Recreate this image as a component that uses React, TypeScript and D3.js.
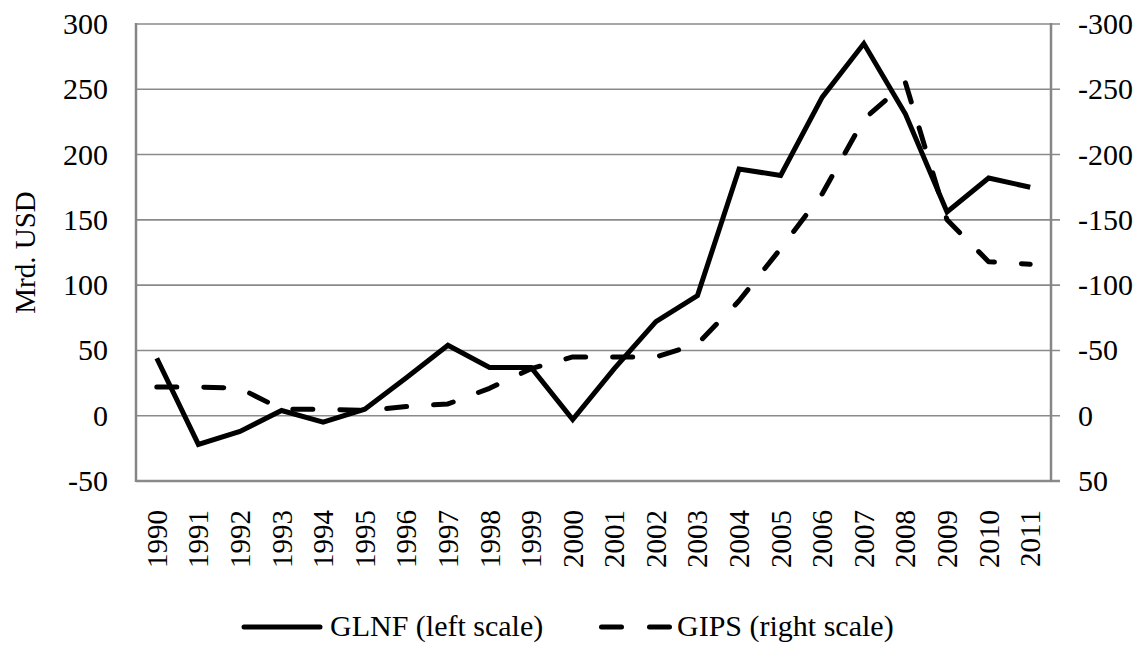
import React, { useRef, useEffect } from 'react';
import * as d3 from 'd3';

const years = ['1990', '1991', '1992', '1993', '1994', '1995', '1996', '1997', '1998', '1999', '2000', '2001', '2002', '2003', '2004', '2005', '2006', '2007', '2008', '2009', '2010', '2011'];
// GLNF, left scale
const glnf = [44, -22, -12, 4, -5, 5, 29, 54, 37, 37, -3, 36, 72, 92, 189, 184, 244, 285, 231, 156, 182, 175];
// GIPS, right scale (inverted)
const gips = [-22, -22, -21, -5, -5, -4, -7, -9, -21, -36, -45, -45, -45, -55, -88, -128, -170, -227, -255, -150, -118, -116];
const leftTicks = [-50, 0, 50, 100, 150, 200, 250, 300];
const rightTicks = [50, 0, -50, -100, -150, -200, -250, -300];

const FONT = 'Liberation Serif';

const App = () => {
  const svgRef = useRef<SVGSVGElement>(null);

  useEffect(() => {
    const svg = d3.select(svgRef.current);
    svg.selectAll('*').remove();

    const width = 1141;
    const height = 645;
    const left = 136;
    const right = 1051;
    const top = 24;
    const bottom = 481;

    svg.attr('width', width).attr('height', height).attr('font-family', FONT);

    const x = d3.scaleBand().domain(years).range([left, right]);
    const yL = d3.scaleLinear().domain([-50, 300]).range([bottom, top]);
    const yR = d3.scaleLinear().domain([50, -300]).range([bottom, top]);
    const cx = (d: string) => (x(d) as number) + x.bandwidth() / 2;

    // gridlines (extend past right axis as ticks)
    svg
      .append('g')
      .selectAll('line')
      .data(leftTicks)
      .enter()
      .append('line')
      .attr('x1', left)
      .attr('x2', right + 9)
      .attr('y1', (d) => yL(d))
      .attr('y2', (d) => yL(d))
      .attr('stroke', '#8a8a8a')
      .attr('stroke-width', (d) => (d === -50 ? 2.5 : 1.6));

    // axis lines
    svg.append('line').attr('x1', left).attr('x2', left).attr('y1', top - 1).attr('y2', bottom + 1)
      .attr('stroke', '#868686').attr('stroke-width', 2.5);
    svg.append('line').attr('x1', right).attr('x2', right).attr('y1', top - 1).attr('y2', bottom + 1)
      .attr('stroke', '#868686').attr('stroke-width', 2.5);

    // left tick labels
    svg
      .append('g')
      .selectAll('text')
      .data(leftTicks)
      .enter()
      .append('text')
      .attr('x', 108)
      .attr('y', (d) => yL(d) + 10)
      .attr('text-anchor', 'end')
      .attr('font-size', 30)
      .text((d) => d);

    // right tick labels
    svg
      .append('g')
      .selectAll('text')
      .data(rightTicks)
      .enter()
      .append('text')
      .attr('x', 1078)
      .attr('y', (d) => yR(d) + 10)
      .attr('text-anchor', 'start')
      .attr('font-size', 30)
      .text((d) => d);

    // year labels
    svg
      .append('g')
      .selectAll('text')
      .data(years)
      .enter()
      .append('text')
      .attr('transform', (d) => `translate(${cx(d) + 10}, 510) rotate(-90)`)
      .attr('text-anchor', 'end')
      .attr('font-size', 29)
      .text((d) => d);

    // y axis title
    svg
      .append('text')
      .attr('transform', `translate(35, ${(top + bottom) / 2}) rotate(-90)`)
      .attr('text-anchor', 'middle')
      .attr('font-size', 29)
      .text('Mrd. USD');

    // lines
    const lineL = d3.line<number>().x((_, i) => cx(years[i])).y((d) => yL(d));
    const lineR = d3.line<number>().x((_, i) => cx(years[i])).y((d) => yR(d));

    svg
      .append('path')
      .datum(gips)
      .attr('d', lineR)
      .attr('fill', 'none')
      .attr('stroke', '#000')
      .attr('stroke-width', 5)
      .attr('stroke-linecap', 'round')
      .attr('stroke-linejoin', 'round')
      .attr('stroke-dasharray', '20,27');

    svg
      .append('path')
      .datum(glnf)
      .attr('d', lineL)
      .attr('fill', 'none')
      .attr('stroke', '#000')
      .attr('stroke-width', 5)
      .attr('stroke-linejoin', 'miter');

    // legend
    const ly = 627;
    const lb = 636;
    svg.append('line').attr('x1', 244).attr('x2', 320).attr('y1', ly).attr('y2', ly)
      .attr('stroke', '#000').attr('stroke-width', 5).attr('stroke-linecap', 'round');
    svg.append('text').attr('x', 330).attr('y', lb)
      .attr('font-size', 30)
      .text('GLNF (left scale)');
    svg.append('line').attr('x1', 601.5).attr('x2', 670).attr('y1', ly).attr('y2', ly)
      .attr('stroke', '#000').attr('stroke-width', 5).attr('stroke-linecap', 'round')
      .attr('stroke-dasharray', '20,28');
    svg.append('text').attr('x', 677).attr('y', lb)
      .attr('font-size', 30)
      .text('GIPS (right scale)');
  }, []);

  return <svg ref={svgRef} style={{ position: 'absolute', left: 0, top: 0 }} />;
};

export default App;
